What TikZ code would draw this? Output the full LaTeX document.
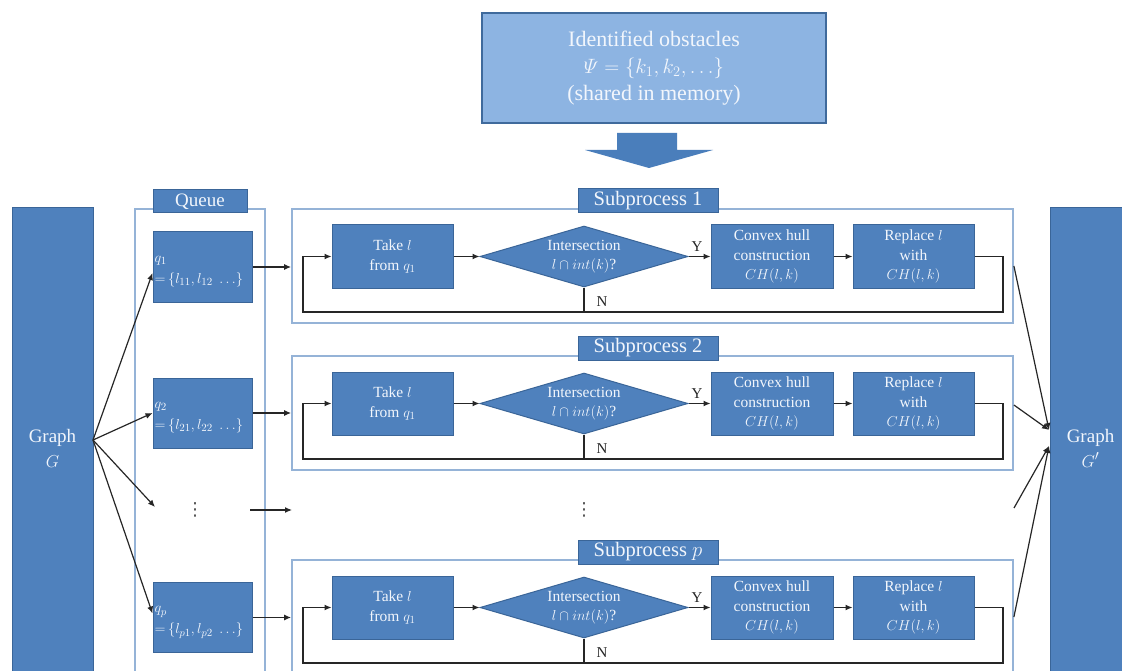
\documentclass[tikz,border=0pt]{standalone}
\usepackage{amsmath}
\usepackage{fontspec}
\setmainfont{Liberation Serif}
\newfontfamily\dejavu{DejaVu Sans}
\usetikzlibrary{arrows.meta,shapes.geometric,calc}
\definecolor{boxblue}{HTML}{4F81BD}
\definecolor{boxedge}{HTML}{3A6598}
\definecolor{topfill}{HTML}{8DB4E2}
\definecolor{topedge}{HTML}{3F6A9C}
\definecolor{frameedge}{HTML}{95B3D7}
\definecolor{txtw}{HTML}{F2F6FC}
\definecolor{arrowblue}{HTML}{4A7EBB}
\tikzset{
  box/.style={draw=boxedge, line width=1pt, fill=boxblue, text=txtw, align=center, inner sep=0pt,
    font=\fontsize{15.5}{19.5}\selectfont},
  framebox/.style={draw=frameedge, line width=1.8pt, fill=none, inner sep=0pt},
  sublabel/.style={box, minimum width=140, minimum height=24, font=\fontsize{20.5}{22}\selectfont},
  dbox/.style={diamond, draw=boxedge, line width=1pt, fill=boxblue, inner sep=0pt, minimum width=208, minimum height=61},
  dtext/.style={text=txtw, align=center, inner sep=0pt, font=\fontsize{15.5}{19.5}\selectfont},
  conn/.style={draw=black!85, line width=1.2pt},
  arr/.style={conn, -{Latex[length=7,width=6]}},
  yn/.style={inner sep=0pt, text=black!85, font=\fontsize{15}{17}\selectfont},
  qtext/.style={inner sep=0pt, text=txtw, align=left, anchor=west, font=\fontsize{15.5}{21}\selectfont},
  dotsnode/.style={inner sep=0pt, text=black!70, font=\dejavu\fontsize{18}{20}\selectfont},
  gbox/.style={box, minimum width=81, minimum height=480, font=\fontsize{19}{25}\selectfont}
}
\begin{document}
\begin{tikzpicture}[x=1pt,y=-1pt]
\useasboundingbox (0,0) rectangle (1122,671);
\fill[white] (0,0) rectangle (1122,671);

% top box
\node[box, fill=topfill, draw=topedge, line width=1.5pt, minimum width=344, minimum height=110,
  font=\fontsize{22}{27}\selectfont] (obst) at (654,68)
  {Identified obstacles\\$\varPsi=\{k_1,k_2,\ldots\}$\\(shared in memory)};
% big down arrow
\fill[arrowblue] (617,133) -- (677,133) -- (677,150) -- (713,150) -- (649,168) -- (585,150) -- (617,150) -- cycle;

% graphs
\node[gbox] (G) at (52.5,448) {Graph\\$G$};
\node[gbox] (Gp) at (1090.5,448) {Graph\\$G'$};

% queue
\node[framebox, minimum width=130, minimum height=490] (qframe) at (200,454) {};
\node[box, minimum width=94, minimum height=23, font=\fontsize{19}{21}\selectfont] (qlabel) at (200,201.5) {Queue};
\node[box, minimum width=99, minimum height=70] (q1) at (202.5,267) {};
\node[box, minimum width=99, minimum height=70] (q2) at (202.5,413) {};
\node[box, minimum width=99, minimum height=70] (qp) at (202.5,617.5) {};
\node[qtext] (q1t) at ($(q1.west)+(2,5)$) {$q_1$\\${=}\,\{l_{11},l_{12}\;\ldots\}$};
\node[qtext] (q2t) at ($(q2.west)+(2,5)$) {$q_2$\\${=}\,\{l_{21},l_{22}\;\ldots\}$};
\node[qtext] (qpt) at ($(qp.west)+(2,5)$) {$q_p$\\${=}\,\{l_{p1},l_{p2}\;\ldots\}$};
\node[dotsnode] (qdots) at (195,510) {⋮};
\node[dotsnode] (mdots) at (584,510) {⋮};

% subprocesses
\foreach \r/\n/\lab in {0/1/1, 147/2/2, 351/p/$p$} {
  \node[framebox, minimum width=721, minimum height=114] (f\n) at (652.5,266+\r) {};
  \node[sublabel] (lab\n) at (648,201+\r) {Subprocess \lab};
  \node[box, minimum width=121, minimum height=63] (take\n) at (392.5,256.5+\r) {Take $l$\\from $q_1$};
  \node[dbox] (d\n) at (584,256.5+\r) {};
  \node[dtext] (dt\n) at (d\n.center) {Intersection\\$l\cap int(k)$?};
  \node[box, minimum width=122, minimum height=63] (conv\n) at (772,256.5+\r) {Convex hull\\construction\\$CH(l,k)$};
  \node[box, minimum width=121, minimum height=63] (rep\n) at (913.5,256.5+\r) {Replace $l$\\with\\$CH(l,k)$};
  \coordinate (lr\n) at (1003,312+\r);
  \coordinate (ll\n) at (303,312+\r);
  \draw[arr] (take\n.east) -- (d\n.west);
  \draw[arr] (d\n.east) -- (conv\n.west);
  \draw[arr] (conv\n.east) -- (rep\n.west);
  \draw[arr] (rep\n.east) -| (lr\n) -- (ll\n) |- (take\n.west);
  \draw[conn] (d\n.south) -- (d\n.south |- lr\n);
  \node[yn] (y\n) at (697,247+\r) {Y};
  \node[yn] (nn\n) at (602,302+\r) {N};
}

% queue to subprocess arrows
\draw[arr] (q1.east) -- (q1.east -| f1.west);
\draw[arr] (q2.east) -- (q2.east -| f2.west);
\draw[arr] (qp.east) -- (qp.east -| fp.west);
\coordinate (dq) at (250,510);
\coordinate (dqt) at (292,510);
\draw[arr] (dq) -- (dqt);

% graph G to queues
\coordinate (gsrc) at (93,440);
\coordinate (gdots) at (155,507);
\draw[arr] (gsrc) -- ($(q1.west)+(0,6)$);
\draw[arr] (gsrc) -- (q2.west);
\draw[arr] (gsrc) -- (gdots);
\draw[arr] (gsrc) -- ($(qp.west)+(0,-4)$);

% subprocesses to G'
\coordinate (gp1) at (1049,430);
\coordinate (gp2) at (1049,446);
\coordinate (rdots) at (1014,508);
\draw[arr] (f1.east) -- (gp1);
\draw[arr] ($(f2.east)+(0,-8)$) -- (gp1);
\draw[arr] (rdots) -- (gp2);
\draw[arr] (fp.east) -- (gp2);
\end{tikzpicture}
\end{document}
